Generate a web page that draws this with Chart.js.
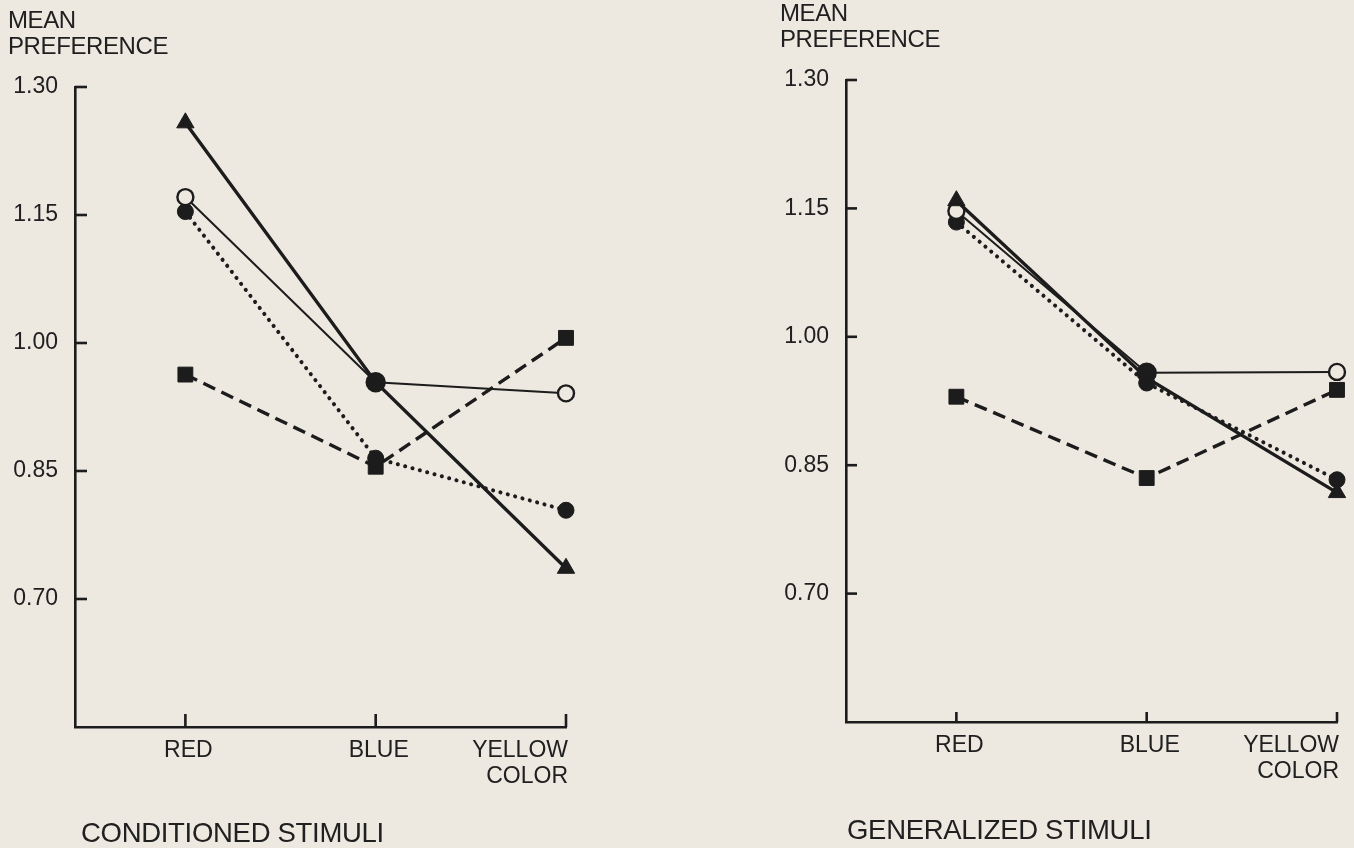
<!DOCTYPE html>
<html>
<head>
<meta charset="utf-8">
<script src="https://cdn.jsdelivr.net/npm/chart.js@4.4.1/dist/chart.umd.min.js"></script>
<style>
  html, body { margin: 0; padding: 0; background: #ede8e0; }
  #wrap { position: relative; width: 1354px; height: 848px; overflow: hidden; background: #ede8e0;
          font-family: "Liberation Sans", Arial, Helvetica, sans-serif; color: #202020; }
  .box { position: absolute; top: 0; width: 677px; height: 848px; }
  .ylab { position: absolute; font-size: 24px; line-height: 26px; letter-spacing: -0.4px; }
  .title { position: absolute; font-size: 27.5px; line-height: 31px; letter-spacing: -0.3px; white-space: nowrap; }
</style>
</head>
<body>
<div id="wrap">
  <div class="box" style="left:0"><canvas id="c1"></canvas></div>
  <div class="box" style="left:677px"><canvas id="c2"></canvas></div>
  <div class="ylab" style="left:8px; top:7px;">MEAN<br>PREFERENCE</div>
  <div class="ylab" style="left:780px; top:0px;">MEAN<br>PREFERENCE</div>
  <div class="title" style="left:81px; top:817px;">CONDITIONED STIMULI</div>
  <div class="title" style="left:847px; top:814px;">GENERALIZED STIMULI</div>
</div>
<script>
// ---- data ----
const categories = ['RED', 'BLUE', 'YELLOW'];
const xPositions = [1, 2, 3];
const axisLabel = 'COLOR';
const yTicks = [0.70, 0.85, 1.00, 1.15, 1.30];
const yMin = 0.55;
const yMax = 1.30;

// Conditioned stimuli
const condTriangle = [1.258, 0.954, 0.736];
const condOpen     = [1.171, 0.954, 0.941];
const condFilled   = [1.154, 0.865, 0.804];
const condSquare   = [0.963, 0.855, 1.006];

// Generalized stimuli
const genTriangle = [1.159, 0.952, 0.818];
const genOpen     = [1.147, 0.958, 0.959];
const genFilled   = [1.134, 0.946, 0.833];
const genSquare   = [0.930, 0.835, 0.938];

// ---- styling ----
const INK = '#1c1c1c';
const TEXT = '#202020';
const PAPER = '#ede8e0';
const FONT = '"Liberation Sans", Arial, Helvetica, sans-serif';

function pts(vals) { return vals.map((v, i) => ({ x: xPositions[i], y: v })); }

function makeDatasets(tri, open, filled, sq) {
  return [
    { label: 'triangle', data: pts(tri), borderColor: INK, borderWidth: 3.4,
      pointStyle: 'triangle', pointRadius: [10, 0, 10], pointBackgroundColor: INK,
      pointBorderColor: INK, pointBorderWidth: 1, order: 1 },
    { label: 'open', data: pts(open), borderColor: INK, borderWidth: 2,
      pointStyle: 'circle', pointRadius: [8, 9, 8], pointBackgroundColor: [PAPER, INK, PAPER],
      pointBorderColor: INK, pointBorderWidth: 2.4, order: 2 },
    { label: 'filled', data: pts(filled), borderColor: INK, borderWidth: 4,
      borderDash: [0.1, 7.5], borderCapStyle: 'round',
      pointStyle: 'circle', pointRadius: 8, pointBackgroundColor: INK,
      pointBorderColor: INK, pointBorderWidth: 1, order: 3 },
    { label: 'square', data: pts(sq), borderColor: INK, borderWidth: 3.4,
      borderDash: [13, 7],
      pointStyle: 'rect', pointRadius: 10.5, pointBackgroundColor: INK,
      pointBorderColor: INK, pointBorderWidth: 1, order: 4 }
  ];
}

const axisDecor = {
  id: 'axisDecor',
  afterDraw(chart, args, opts) {
    const ctx = chart.ctx;
    const xs = chart.scales.x, ys = chart.scales.y;
    ctx.save();
    ctx.strokeStyle = INK;
    ctx.lineWidth = 2.6;
    ctx.lineCap = 'butt';
    yTicks.forEach(v => {
      const py = ys.getPixelForValue(v);
      ctx.beginPath();
      ctx.moveTo(xs.left, py);
      ctx.lineTo(xs.left + opts.ytick, py);
      ctx.stroke();
    });
    xPositions.forEach(v => {
      const px = xs.getPixelForValue(v);
      ctx.beginPath();
      ctx.moveTo(px, ys.bottom);
      ctx.lineTo(px, ys.bottom - opts.xtick);
      ctx.stroke();
    });
    ctx.fillStyle = TEXT;
    ctx.font = '23px ' + FONT;
    ctx.textBaseline = 'middle';
    const ly = ys.bottom + opts.labelGap;
    xPositions.forEach((v, i) => {
      const px = xs.getPixelForValue(v);
      if (i === xPositions.length - 1) {
        ctx.textAlign = 'right';
        ctx.fillText(categories[i], px + 2, ly);
        ctx.fillText(axisLabel, px + 2, ly + 26);
      } else {
        ctx.textAlign = 'center';
        ctx.fillText(categories[i], px + 3, ly);
      }
    });
    ctx.restore();
  }
};

function makeChart(id, datasets, padding, decor) {
  return new Chart(document.getElementById(id), {
    type: 'line',
    data: { datasets },
    plugins: [axisDecor],
    options: {
      responsive: true,
      maintainAspectRatio: false,
      animation: false,
      layout: { padding },
      plugins: { legend: { display: false }, tooltip: { enabled: false }, axisDecor: decor },
      elements: { line: { tension: 0, fill: false } },
      datasets: { line: { clip: false } },
      scales: {
        x: {
          type: 'linear', min: 0.42, max: 3,
          grid: { display: false },
          border: { display: true, color: INK, width: 2.6 },
          ticks: { display: false },
          afterFit(scale) { scale.height = 0; }
        },
        y: {
          type: 'linear', min: yMin, max: yMax,
          grid: { display: false },
          border: { display: true, color: INK, width: 2.6 },
          afterBuildTicks(scale) { scale.ticks = yTicks.map(v => ({ value: v })); },
          ticks: {
            color: TEXT, padding: 9,
            font: { family: FONT, size: 23 },
            callback: v => Number(v).toFixed(2)
          },
          afterFit(scale) { scale.width = 75; }
        }
      }
    }
  });
}

makeChart('c1', makeDatasets(condTriangle, condOpen, condFilled, condSquare),
  { left: 0, right: 111, top: 87, bottom: 121 }, { ytick: 12, xtick: 13, labelGap: 24 });
makeChart('c2', makeDatasets(genTriangle, genOpen, genFilled, genSquare),
  { left: 94, right: 17, top: 80, bottom: 126 }, { ytick: 11, xtick: 10, labelGap: 24 });
</script>
</body>
</html>
